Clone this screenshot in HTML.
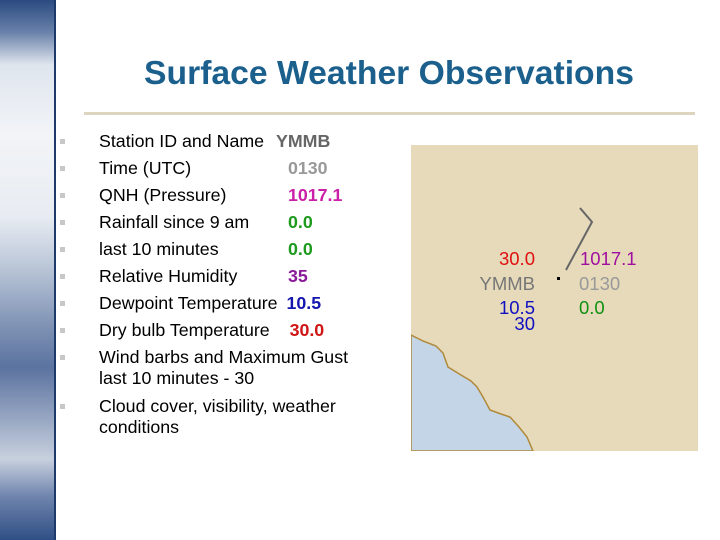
<!DOCTYPE html>
<html><head><style>
body{margin:0;width:720px;height:540px;background:#fff;position:relative;overflow:hidden;font-family:"Liberation Sans",Arial,sans-serif}
.strip{position:absolute;left:0;top:0;width:54px;height:540px;background:linear-gradient(180deg,#2a4a80 0%,#6a82aa 6%,#dfe5ee 12%,#f2f4f7 25%,#e8ecf2 40%,#b8c4d6 50%,#8194b6 60%,#5b73a0 68%,#9aa9c4 78%,#c8d0de 85%,#6e84ad 92%,#2f4f85 100%);border-right:2px solid #1d3a6a}
h1{position:absolute;left:0;width:778px;top:54px;margin:0;text-align:center;font-size:33.7px;font-weight:bold;color:#1b5f8c;white-space:nowrap}
.rule{position:absolute;left:84px;top:112px;width:611px;height:3px;background:#ddd5c0}
.r{position:absolute;font-size:17.8px;color:#000;left:99px;line-height:21px;white-space:nowrap}
.b{position:absolute;left:60px;width:5px;height:5px;background:#c8c8c8}
.v{position:absolute;font-size:17.8px;font-weight:bold;line-height:21px}
.map{position:absolute;left:411px;top:145px;width:287px;height:306px;background:#e6dabb;overflow:hidden}
.m{position:absolute;font-size:18.5px;line-height:16px;letter-spacing:0;white-space:nowrap}
.rt{right:163px;text-align:right}
</style></head><body>
<div class="strip"></div>
<h1>Surface Weather Observations</h1>
<div class="rule"></div>

<div class="b" style="top:139px"></div><div class="r" style="top:131px">Station ID and Name</div><div class="v" style="left:276px;top:131px;color:#666">YMMB</div>
<div class="b" style="top:166px"></div><div class="r" style="top:158px">Time (UTC)</div><div class="v" style="left:288px;top:158px;color:#999">0130</div>
<div class="b" style="top:193px"></div><div class="r" style="top:185px">QNH (Pressure)</div><div class="v" style="left:288px;top:185px;color:#cc1fa8">1017.1</div>
<div class="b" style="top:220px"></div><div class="r" style="top:212px">Rainfall since 9 am</div><div class="v" style="left:288px;top:212px;color:#1e9a1e">0.0</div>
<div class="b" style="top:247px"></div><div class="r" style="top:239px">last 10 minutes</div><div class="v" style="left:288px;top:239px;color:#1e9a1e">0.0</div>
<div class="b" style="top:274px"></div><div class="r" style="top:266px">Relative Humidity</div><div class="v" style="left:288px;top:266px;color:#8a1c9a">35</div>
<div class="b" style="top:301px"></div><div class="r" style="top:293px">Dewpoint Temperature <b style="color:#1515b0;margin-left:4px">10.5</b></div>
<div class="b" style="top:328px"></div><div class="r" style="top:320px">Dry bulb Temperature <b style="color:#d01515;margin-left:15px">30.0</b></div>
<div class="b" style="top:355px"></div><div class="r" style="top:347px">Wind barbs and Maximum Gust<br>last 10 minutes - 30</div>
<div class="b" style="top:404px"></div><div class="r" style="top:396px">Cloud cover, visibility, weather<br>conditions</div>

<div class="map">
<svg width="287" height="306" style="position:absolute;left:0;top:0">
<path d="M0,190 L12,196 L25,201 L32,208 L37,222 L50,230 L60,236 L66,242 L72,252 L79,265 L90,269 L99,272 L108,282 L116,292 L122,306 L0,306 Z" fill="#c3d5e6" stroke="#b08a3a" stroke-width="1.5"/>
<path d="M155,125 L181,77 L169,63" fill="none" stroke="#666" stroke-width="2"/>
<rect x="146" y="132" width="3" height="3" fill="#000"/>
</svg>
<div class="m rt" style="top:106px;color:#e01010">30.0</div>
<div class="m rt" style="top:131px;color:#777">YMMB</div>
<div class="m rt" style="top:155px;color:#1010c0">10.5</div>
<div class="m rt" style="top:171px;color:#1010c0">30</div>
<div class="m" style="left:169px;top:106px;color:#a010a0">1017.1</div>
<div class="m" style="left:168px;top:131px;color:#999">0130</div>
<div class="m" style="left:168px;top:155px;color:#109010">0.0</div>
</div>
</body></html>
